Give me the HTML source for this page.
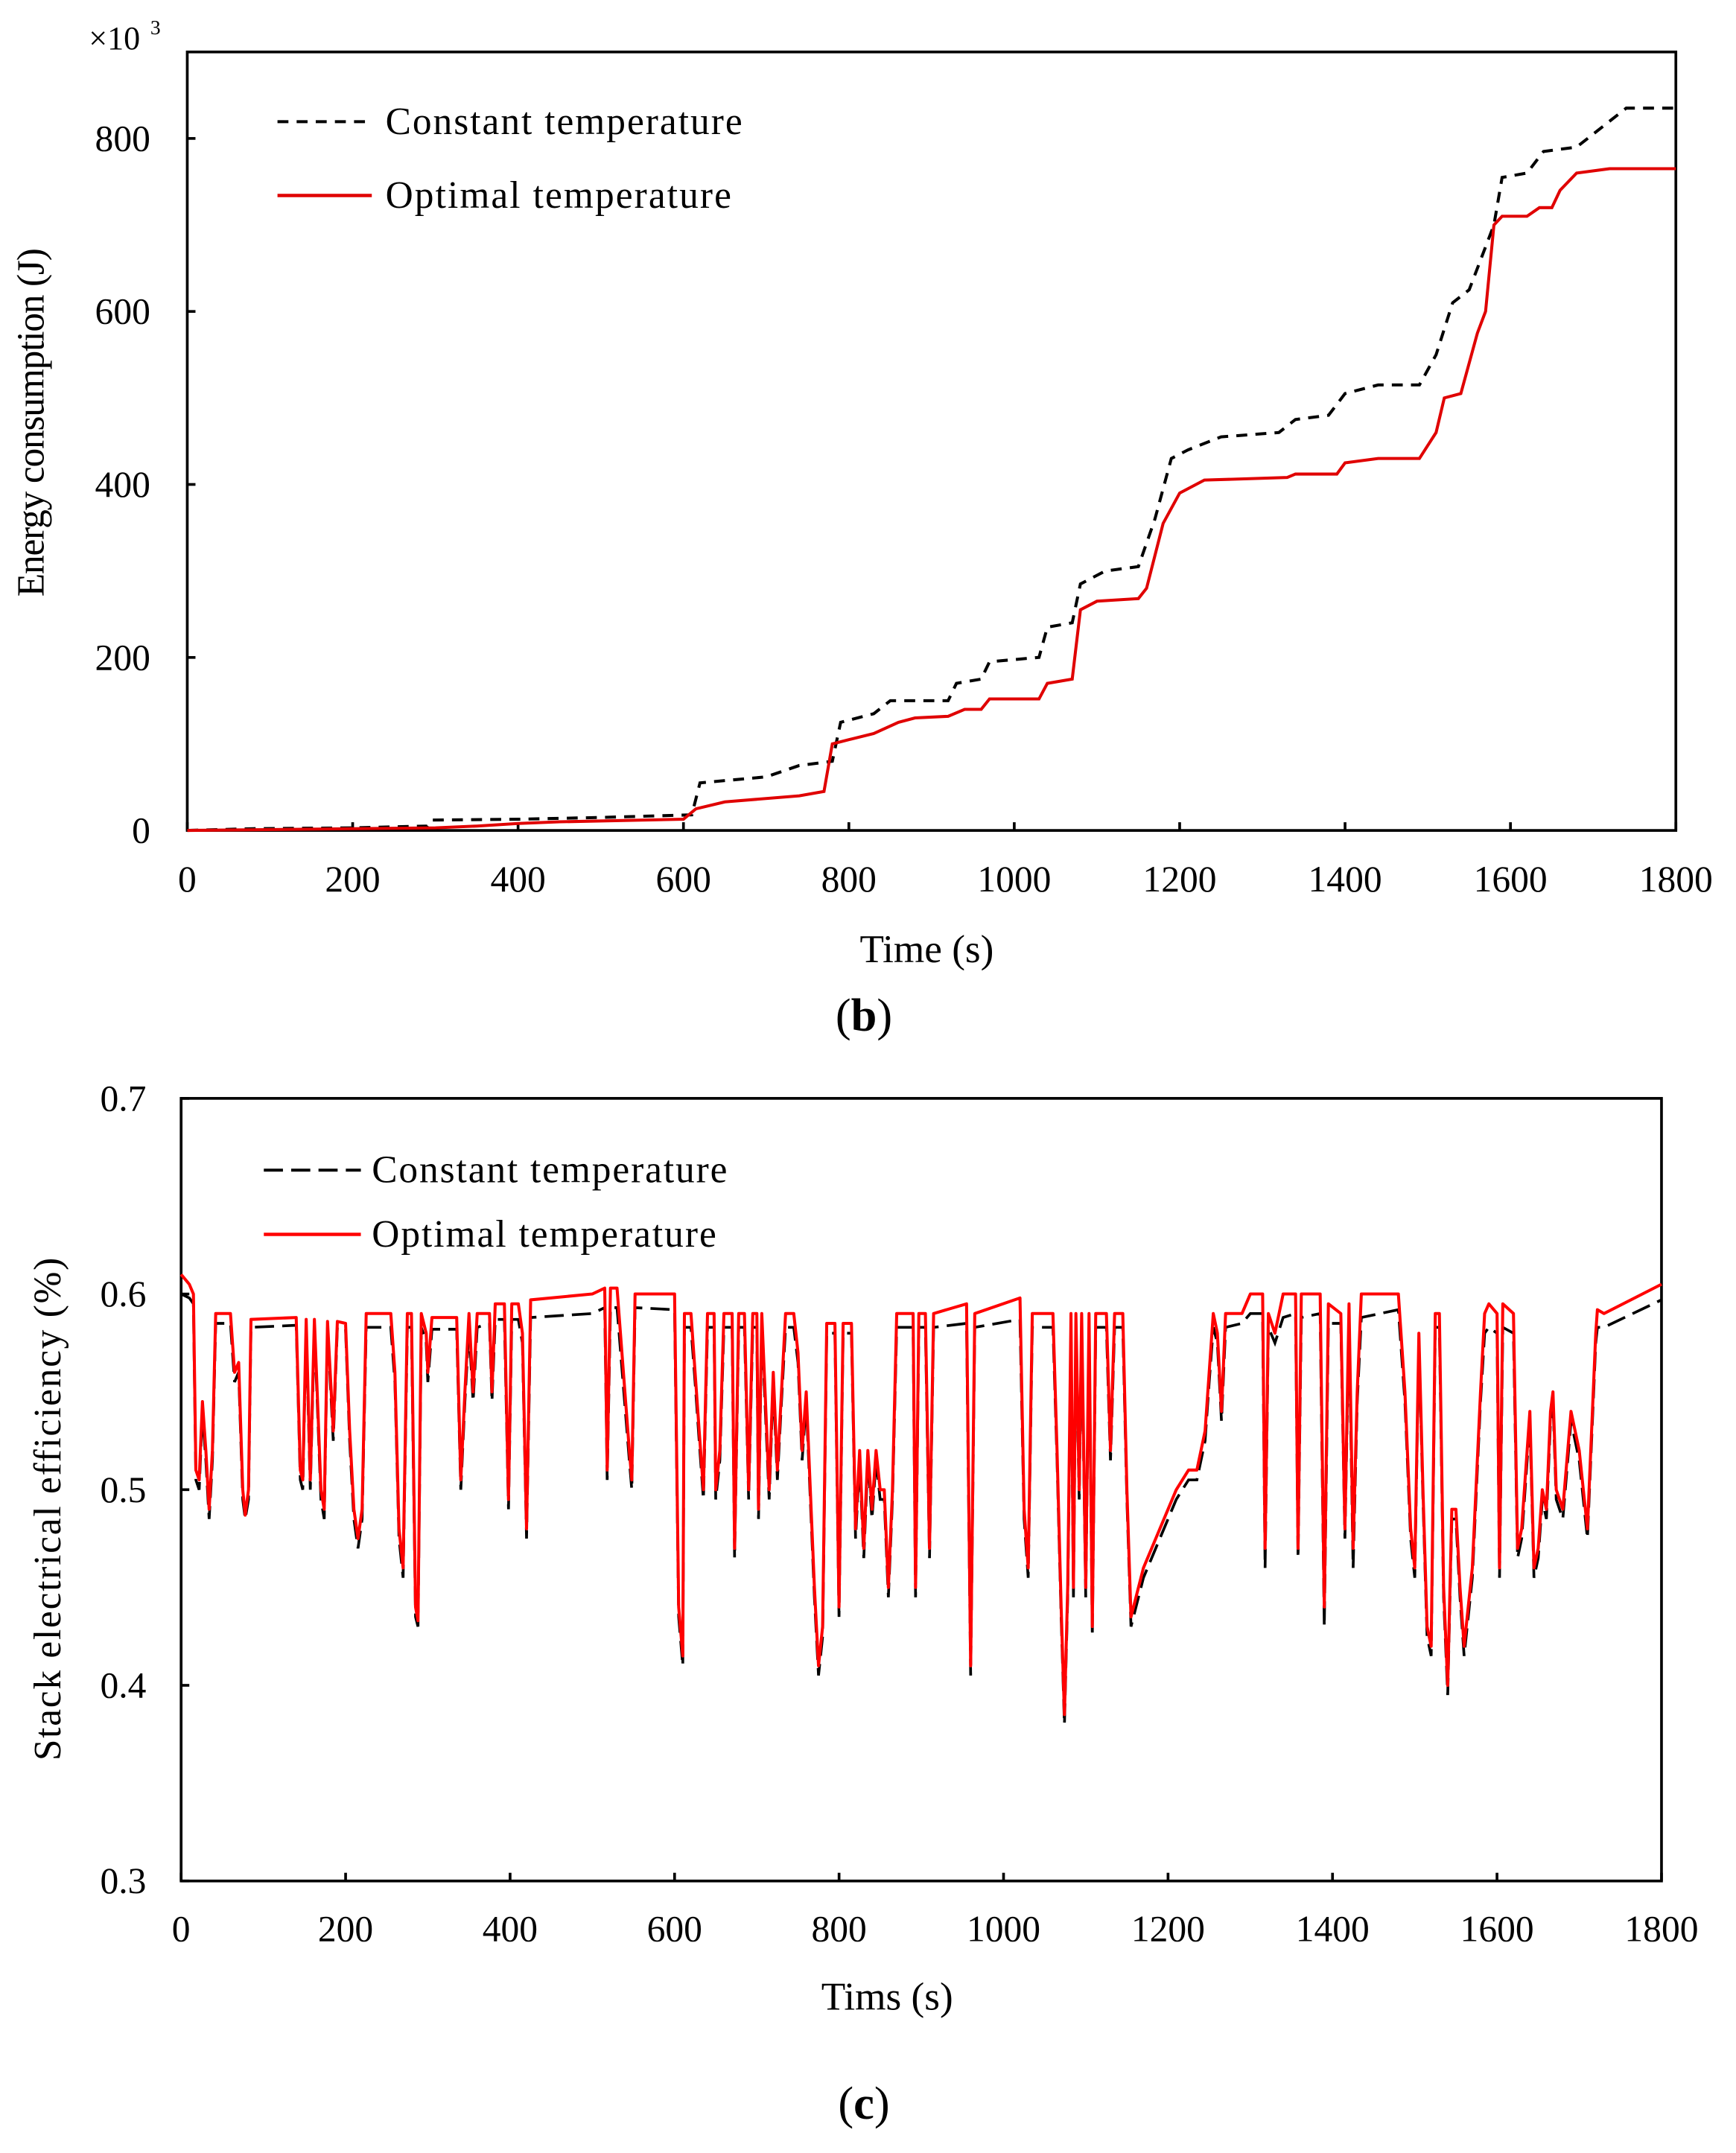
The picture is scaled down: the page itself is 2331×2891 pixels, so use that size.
<!DOCTYPE html>
<html><head><meta charset="utf-8"><style>
html,body{margin:0;padding:0;background:#fff;}
svg{display:block;}
svg text{font-family:"Liberation Serif","DejaVu Serif",serif;fill:#000;}
</style></head><body>
<svg id="fig" width="2331" height="2891" viewBox="0 0 1270 1575" preserveAspectRatio="none" font-family="Liberation Serif, serif" xmlns="http://www.w3.org/2000/svg">
<g id="chartB"></g>
<g id="chartC"></g>
</svg>
<script>
// ---- Chart (b) data: energy consumption (x10^3 J) ----
const energyXTicks = [0,200,400,600,800,1000,1200,1400,1600,1800];
const energyYTicks = [0,200,400,600,800];
const energyConstant = [[0,0],[80,2],[200,3],[290,5],[295,12],[400,13],[500,15],[610,18],[620,55],[700,62],[740,75],[780,80],[790,125],[830,135],[850,150],[920,150],[930,170],[960,175],[970,195],[1030,200],[1040,235],[1070,240],[1080,285],[1110,300],[1150,305],[1170,360],[1190,430],[1210,440],[1250,455],[1320,460],[1340,475],[1380,480],[1400,505],[1440,515],[1490,515],[1510,550],[1530,610],[1550,625],[1580,700],[1590,755],[1620,760],[1640,785],[1680,790],[1700,805],[1720,820],[1740,835],[1800,835]];
const energyOptimal = [[0,0],[300,3],[350,5],[400,8],[450,10],[600,13],[615,25],[650,33],[740,40],[770,45],[780,100],[800,105],[830,112],[860,125],[880,130],[920,132],[940,140],[960,140],[970,152],[1030,152],[1040,170],[1070,175],[1080,255],[1100,265],[1150,268],[1160,280],[1180,355],[1200,390],[1230,405],[1330,408],[1340,412],[1390,412],[1400,425],[1440,430],[1490,430],[1500,445],[1510,460],[1520,500],[1540,505],[1560,575],[1570,600],[1580,700],[1590,710],[1620,710],[1635,720],[1650,720],[1660,740],[1680,760],[1720,765],[1800,765]];

// ---- Chart (c) data: stack electrical efficiency ----
const effXTicks = [0,200,400,600,800,1000,1200,1400,1600,1800];
const effYTicks = [0.3,0.4,0.5,0.6,0.7];
const effTime = [0,10,15,18,22,26,30,34,38,42,60,65,70,75,78,82,85,140,145,148,152,157,162,170,174,178,185,190,200,205,210,215,220,225,255,260,265,270,275,280,285,288,292,298,300,305,335,340,345,350,355,360,375,378,382,393,398,402,410,415,420,425,500,515,518,522,530,545,548,552,600,605,610,612,620,625,630,635,640,648,650,655,660,670,673,678,685,690,695,700,702,706,715,720,725,730,735,745,750,755,760,765,770,775,780,785,795,800,805,815,820,825,830,835,840,845,850,855,860,865,870,890,893,897,905,910,915,955,960,965,1020,1025,1030,1035,1060,1065,1070,1074,1078,1082,1085,1088,1092,1095,1100,1104,1108,1112,1125,1130,1135,1145,1150,1155,1170,1190,1210,1225,1235,1245,1250,1255,1260,1265,1270,1290,1300,1315,1318,1322,1330,1340,1355,1358,1362,1385,1390,1395,1410,1415,1420,1425,1430,1435,1480,1488,1495,1500,1505,1510,1515,1520,1525,1530,1535,1540,1545,1550,1555,1560,1570,1580,1585,1590,1600,1603,1607,1620,1625,1630,1640,1645,1650,1655,1660,1665,1668,1672,1680,1690,1700,1710,1720,1722,1730,1800];
const effOptimal = [0.61,0.605,0.6,0.51,0.505,0.545,0.52,0.49,0.52,0.59,0.59,0.56,0.565,0.5,0.487,0.5,0.587,0.588,0.51,0.505,0.587,0.505,0.587,0.5,0.49,0.586,0.53,0.586,0.585,0.53,0.49,0.475,0.49,0.59,0.59,0.56,0.48,0.46,0.59,0.59,0.44,0.433,0.59,0.58,0.56,0.588,0.588,0.505,0.55,0.59,0.55,0.59,0.59,0.55,0.595,0.595,0.495,0.595,0.595,0.58,0.48,0.597,0.6,0.603,0.51,0.603,0.603,0.52,0.505,0.6,0.6,0.44,0.415,0.59,0.59,0.56,0.53,0.5,0.59,0.59,0.5,0.52,0.59,0.59,0.47,0.59,0.59,0.5,0.59,0.59,0.49,0.59,0.5,0.56,0.51,0.55,0.59,0.59,0.57,0.52,0.55,0.5,0.45,0.41,0.43,0.585,0.585,0.44,0.585,0.585,0.48,0.52,0.47,0.52,0.49,0.52,0.5,0.5,0.45,0.5,0.59,0.59,0.45,0.59,0.59,0.47,0.59,0.595,0.41,0.59,0.598,0.49,0.46,0.59,0.59,0.52,0.44,0.385,0.45,0.59,0.45,0.59,0.5,0.59,0.45,0.59,0.43,0.59,0.59,0.52,0.59,0.59,0.5,0.435,0.46,0.48,0.5,0.51,0.51,0.53,0.56,0.59,0.58,0.54,0.59,0.59,0.6,0.6,0.47,0.59,0.58,0.6,0.6,0.47,0.6,0.6,0.44,0.595,0.59,0.48,0.595,0.47,0.55,0.6,0.6,0.55,0.48,0.46,0.58,0.5,0.43,0.42,0.59,0.59,0.45,0.4,0.49,0.49,0.45,0.42,0.46,0.55,0.59,0.595,0.59,0.46,0.595,0.59,0.47,0.48,0.54,0.46,0.47,0.5,0.49,0.54,0.55,0.5,0.49,0.54,0.52,0.48,0.58,0.592,0.59,0.605];
const effConstant = [0.6,0.598,0.595,0.505,0.5,0.54,0.515,0.485,0.515,0.585,0.585,0.555,0.56,0.495,0.485,0.495,0.583,0.584,0.505,0.5,0.583,0.5,0.583,0.495,0.485,0.583,0.525,0.583,0.582,0.525,0.485,0.47,0.485,0.583,0.583,0.555,0.475,0.455,0.583,0.583,0.435,0.43,0.583,0.575,0.555,0.582,0.582,0.5,0.545,0.583,0.545,0.583,0.585,0.545,0.587,0.587,0.49,0.587,0.587,0.575,0.475,0.588,0.59,0.593,0.505,0.593,0.593,0.515,0.5,0.593,0.592,0.435,0.41,0.583,0.583,0.555,0.525,0.495,0.583,0.583,0.495,0.515,0.583,0.583,0.465,0.583,0.583,0.495,0.583,0.583,0.485,0.583,0.495,0.555,0.505,0.545,0.583,0.583,0.565,0.515,0.545,0.495,0.445,0.405,0.425,0.58,0.58,0.435,0.58,0.58,0.475,0.515,0.465,0.515,0.485,0.515,0.495,0.495,0.445,0.495,0.583,0.583,0.445,0.583,0.583,0.465,0.583,0.585,0.405,0.583,0.587,0.485,0.455,0.583,0.583,0.515,0.435,0.38,0.445,0.583,0.445,0.583,0.495,0.583,0.445,0.583,0.425,0.583,0.583,0.515,0.583,0.583,0.495,0.43,0.455,0.475,0.495,0.505,0.505,0.525,0.555,0.583,0.575,0.535,0.583,0.585,0.59,0.59,0.46,0.583,0.575,0.588,0.59,0.465,0.588,0.59,0.43,0.585,0.585,0.475,0.585,0.46,0.545,0.588,0.592,0.545,0.475,0.455,0.575,0.495,0.425,0.415,0.583,0.583,0.445,0.395,0.485,0.485,0.445,0.415,0.455,0.545,0.58,0.583,0.58,0.455,0.583,0.58,0.465,0.475,0.535,0.455,0.465,0.495,0.485,0.535,0.545,0.495,0.485,0.535,0.515,0.475,0.575,0.583,0.583,0.597];

const NS = "http://www.w3.org/2000/svg";
const FONT = "Liberation Serif, DejaVu Serif, serif";
function mk(parent, tag, attrs, txt){
  const e = document.createElementNS(NS, tag);
  for (const k in attrs) e.setAttribute(k, attrs[k]);
  if (tag === 'text') e.setAttribute('font-family', FONT);
  if (txt !== undefined) e.textContent = txt;
  parent.appendChild(e);
  return e;
}
function lin(d0,d1,r0,r1){ return v => r0 + (v-d0)/(d1-d0)*(r1-r0); }

// ===== Chart B =====
(function(){
  const g = document.getElementById('chartB');
  const L=137,R=1226,T=38,B=607.5;
  const x = lin(0,1800,L,R), y = lin(0,900,B,T);
  let e;
  e = mk(g,'rect',{x:L,y:T,width:R-L,height:B-T,fill:'none',stroke:'#000','stroke-width':2});
  
  
  energyXTicks.forEach(t=>{
    e = mk(g,'line',{x1:x(t),x2:x(t),y1:B,y2:B-6,stroke:'#000','stroke-width':2});
    
    
    e = mk(g,'text',{x:x(t),y:652,'text-anchor':'middle','font-size':27},String(t));
    
    
  });
  energyYTicks.forEach(t=>{
    e = mk(g,'line',{x1:L,x2:L+6,y1:y(t),y2:y(t),stroke:'#000','stroke-width':2});
    
    
    e = mk(g,'text',{x:110,y:y(t)+9,'text-anchor':'end','font-size':27},String(t));
    
    
  });
  e = mk(g,'text',{x:65,y:36,'font-size':24},'×10');
  
  
  e = mk(g,'text',{x:110,y:25,'font-size':15},'3');
  
  
  e = mk(g,'text',{x:678,y:704,'text-anchor':'middle','font-size':29},'Time (s)');
  
  
  e = mk(g,'text',{x:0,y:0,'text-anchor':'middle','font-size':28,textLength:255,transform:'translate(32,309) rotate(-90)'},'Energy consumption (J)');
  
  
  e = mk(g,'text',{x:632,y:754,'text-anchor':'middle','font-size':34},'');
  e.innerHTML = '(<tspan font-weight="bold">b</tspan>)';
  
  
  const pts = a => a.map(p=>x(p[0]).toFixed(1)+','+y(p[1]).toFixed(1)).join(' ');
  e = mk(g,'polyline',{points:pts(energyConstant),fill:'none',stroke:'#000','stroke-width':2.2,'stroke-dasharray':'8,6'});
  
  
  e = mk(g,'polyline',{points:pts(energyOptimal),fill:'none',stroke:'#e00000','stroke-width':2.2});
  
  
  e = mk(g,'line',{x1:203,x2:272,y1:89,y2:89,stroke:'#000','stroke-width':2.2,'stroke-dasharray':'8,6'});
  
  
  e = mk(g,'text',{x:282,y:98,'font-size':28,textLength:261},'Constant temperature');
  
  
  e = mk(g,'line',{x1:203,x2:272,y1:143,y2:143,stroke:'#e00000','stroke-width':2.5});
  
  
  e = mk(g,'text',{x:282,y:152,'font-size':28,textLength:253},'Optimal temperature');
  
  
})();

// ===== Chart C =====
(function(){
  const g = document.getElementById('chartC');
  const L=132.5,R=1215.5,T=803.5,B=1376;
  const x = lin(0,1800,L,R), y = lin(0.3,0.7,B,T);
  let e;
  e = mk(g,'rect',{x:L,y:T,width:R-L,height:B-T,fill:'none',stroke:'#000','stroke-width':2});
  
  
  effXTicks.forEach(t=>{
    e = mk(g,'line',{x1:x(t),x2:x(t),y1:B,y2:B-6,stroke:'#000','stroke-width':2});
    
    
    e = mk(g,'text',{x:x(t),y:1420,'text-anchor':'middle','font-size':27},String(t));
    
    
  });
  effYTicks.forEach(t=>{
    e = mk(g,'line',{x1:L,x2:L+6,y1:y(t),y2:y(t),stroke:'#000','stroke-width':2});
    
    
    e = mk(g,'text',{x:107,y:y(t)+9,'text-anchor':'end','font-size':27},t.toFixed(1));
    
    
  });
  e = mk(g,'text',{x:649,y:1470,'text-anchor':'middle','font-size':29},'Tims (s)');
  
  
  e = mk(g,'text',{x:0,y:0,'text-anchor':'middle','font-size':28,textLength:368,transform:'translate(44,1104) rotate(-90)'},'Stack electrical efficiency (%)');
  
  
  e = mk(g,'text',{x:632,y:1550,'text-anchor':'middle','font-size':34},'');
  e.innerHTML = '(<tspan font-weight="bold">c</tspan>)';
  
  
  const pts = vals => effTime.map((t,i)=>x(t).toFixed(1)+','+y(vals[i]).toFixed(1)).join(' ');
  e = mk(g,'polyline',{points:pts(effConstant),fill:'none',stroke:'#000','stroke-width':2,'stroke-dasharray':'14,6'});
  
  
  e = mk(g,'polyline',{points:pts(effOptimal),fill:'none',stroke:'#ff0000','stroke-width':2.2,'stroke-linejoin':'round'});
  
  
  e = mk(g,'line',{x1:193,x2:264,y1:856,y2:856,stroke:'#000','stroke-width':2.2,'stroke-dasharray':'14,6'});
  
  
  e = mk(g,'text',{x:272,y:865,'font-size':28,textLength:260},'Constant temperature');
  
  
  e = mk(g,'line',{x1:193,x2:264,y1:903,y2:903,stroke:'#ff0000','stroke-width':2.5});
  
  
  e = mk(g,'text',{x:272,y:912,'font-size':28,textLength:252},'Optimal temperature');
  
  
})();
</script>
</body></html>
